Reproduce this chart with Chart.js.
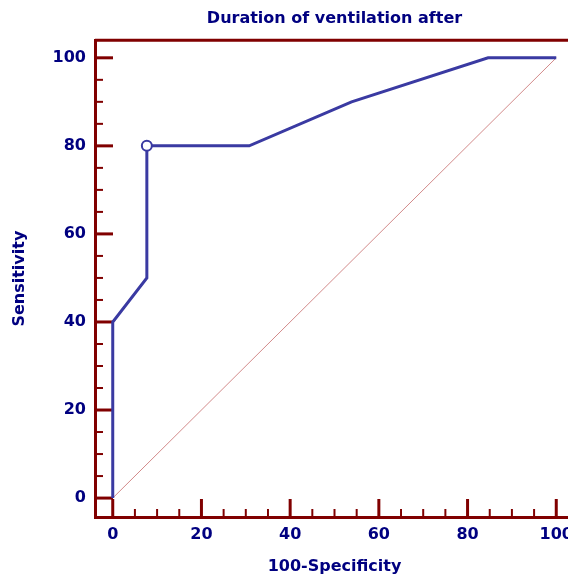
<!DOCTYPE html>
<html>
<head>
<meta charset="utf-8">
<script src="https://cdn.jsdelivr.net/npm/chart.js@4"></script>
<style>
  html, body { margin: 0; padding: 0; background: #fff; overflow: hidden; }
  #wrap { width: 568px; height: 579px; overflow: hidden; }
</style>
</head>
<body>
<div id="wrap"><canvas id="roc" width="600" height="579"></canvas></div>
<script>
'use strict';
// ROC curve: 100-Specificity vs Sensitivity

const rocX = [0, 0, 7.69, 7.69, 30.77, 53.85, 84.62, 100];
const rocY = [0, 40, 50, 80, 80, 90, 100, 100];
const diagX = [0, 100];
const diagY = [0, 100];
const critX = [7.69];
const critY = [80];
const xTicks = [0, 20, 40, 60, 80, 100];
const yTicks = [0, 20, 40, 60, 80, 100];

const NAVY = '#000080';
const AXIS = '#800000';
const CURVE = '#3a3aa2';
const FONT = "'DejaVu Sans', 'Liberation Sans', Arial, sans-serif";

const pts = (xs, ys) => xs.map((x, i) => ({ x, y: ys[i] }));

// Frame + inward tick marks (major every 20, minor every 5)
const frameTicks = {
    id: 'frameTicks',
    beforeDatasetsDraw(chart) {
        const { ctx, chartArea: a, scales: { x, y } } = chart;
        ctx.save();
        ctx.strokeStyle = AXIS;
        ctx.lineCap = 'butt';
        for (let v = 0; v <= 100; v += 5) {
            const major = v % 20 === 0;
            ctx.lineWidth = major ? 3 : 2;
            const len = major ? 18 : 8;
            const py = y.getPixelForValue(v);
            ctx.beginPath();
            ctx.moveTo(a.left, py);
            ctx.lineTo(a.left + len, py);
            ctx.stroke();
            const px = x.getPixelForValue(v);
            ctx.beginPath();
            ctx.moveTo(px, a.bottom);
            ctx.lineTo(px, a.bottom - len);
            ctx.stroke();
        }
        ctx.lineWidth = 3;
        ctx.beginPath();
        ctx.moveTo(a.left, a.top);
        ctx.lineTo(a.right, a.top);
        ctx.lineTo(a.right, a.bottom);
        ctx.stroke();
        ctx.restore();
    }
};

new Chart(document.getElementById('roc'), {
    type: 'scatter',
    data: {
        datasets: [
            {
                data: pts(diagX, diagY),
                showLine: true,
                borderColor: 'rgba(180,60,60,0.6)',
                borderWidth: 1,
                pointRadius: 0,
                order: 3,
            },
            {
                data: pts(rocX, rocY),
                showLine: true,
                borderColor: CURVE,
                borderWidth: 3,
                pointRadius: 0,
                tension: 0,
                order: 2,
            },
            {
                data: pts(critX, critY),
                pointRadius: 5,
                pointBorderWidth: 2,
                pointBackgroundColor: '#fff',
                pointBorderColor: CURVE,
                order: 1,
            },
        ],
    },
    options: {
        responsive: false,
        animation: false,
        layout: { padding: { left: 0, top: 0, bottom: 0, right: 26 } },
        plugins: {
            legend: { display: false },
            tooltip: { enabled: false },
            title: {
                display: true,
                text: 'Duration of ventilation after',
                color: NAVY,
                fullSize: false,
                font: { family: FONT, size: 16, weight: 'bold' },
                padding: { top: 9, bottom: 12 },
            },
        },
        scales: {
            x: {
                type: 'linear',
                position: 'bottom',
                min: -4,
                max: 104,
                afterBuildTicks: s => { s.ticks = xTicks.map(v => ({ value: v })); },
                afterFit: s => { s.height = 62; },
                grid: { display: false, drawTicks: false },
                border: { display: true, color: AXIS, width: 3 },
                ticks: {
                    color: NAVY,
                    padding: 8,
                    maxRotation: 0,
                    font: { family: FONT, size: 16, weight: 'bold' },
                },
                title: {
                    display: true,
                    text: '100-Specificity',
                    color: NAVY,
                    font: { family: FONT, size: 16, weight: 'bold' },
                    padding: { top: 0, bottom: 3 },
                },
            },
            y: {
                type: 'linear',
                position: 'left',
                min: -4.3,
                max: 104,
                afterBuildTicks: s => { s.ticks = yTicks.map(v => ({ value: v })); },
                afterFit: s => { s.width = 95; },
                grid: { display: false, drawTicks: false },
                border: { display: true, color: AXIS, width: 3 },
                ticks: {
                    color: NAVY,
                    padding: 9,
                    font: { family: FONT, size: 16, weight: 'bold' },
                },
                title: {
                    display: true,
                    text: 'Sensitivity',
                    color: NAVY,
                    font: { family: FONT, size: 16, weight: 'bold' },
                    padding: { top: 10, bottom: 0 },
                },
            },
        },
    },
    plugins: [frameTicks],
});
</script>
</body>
</html>
